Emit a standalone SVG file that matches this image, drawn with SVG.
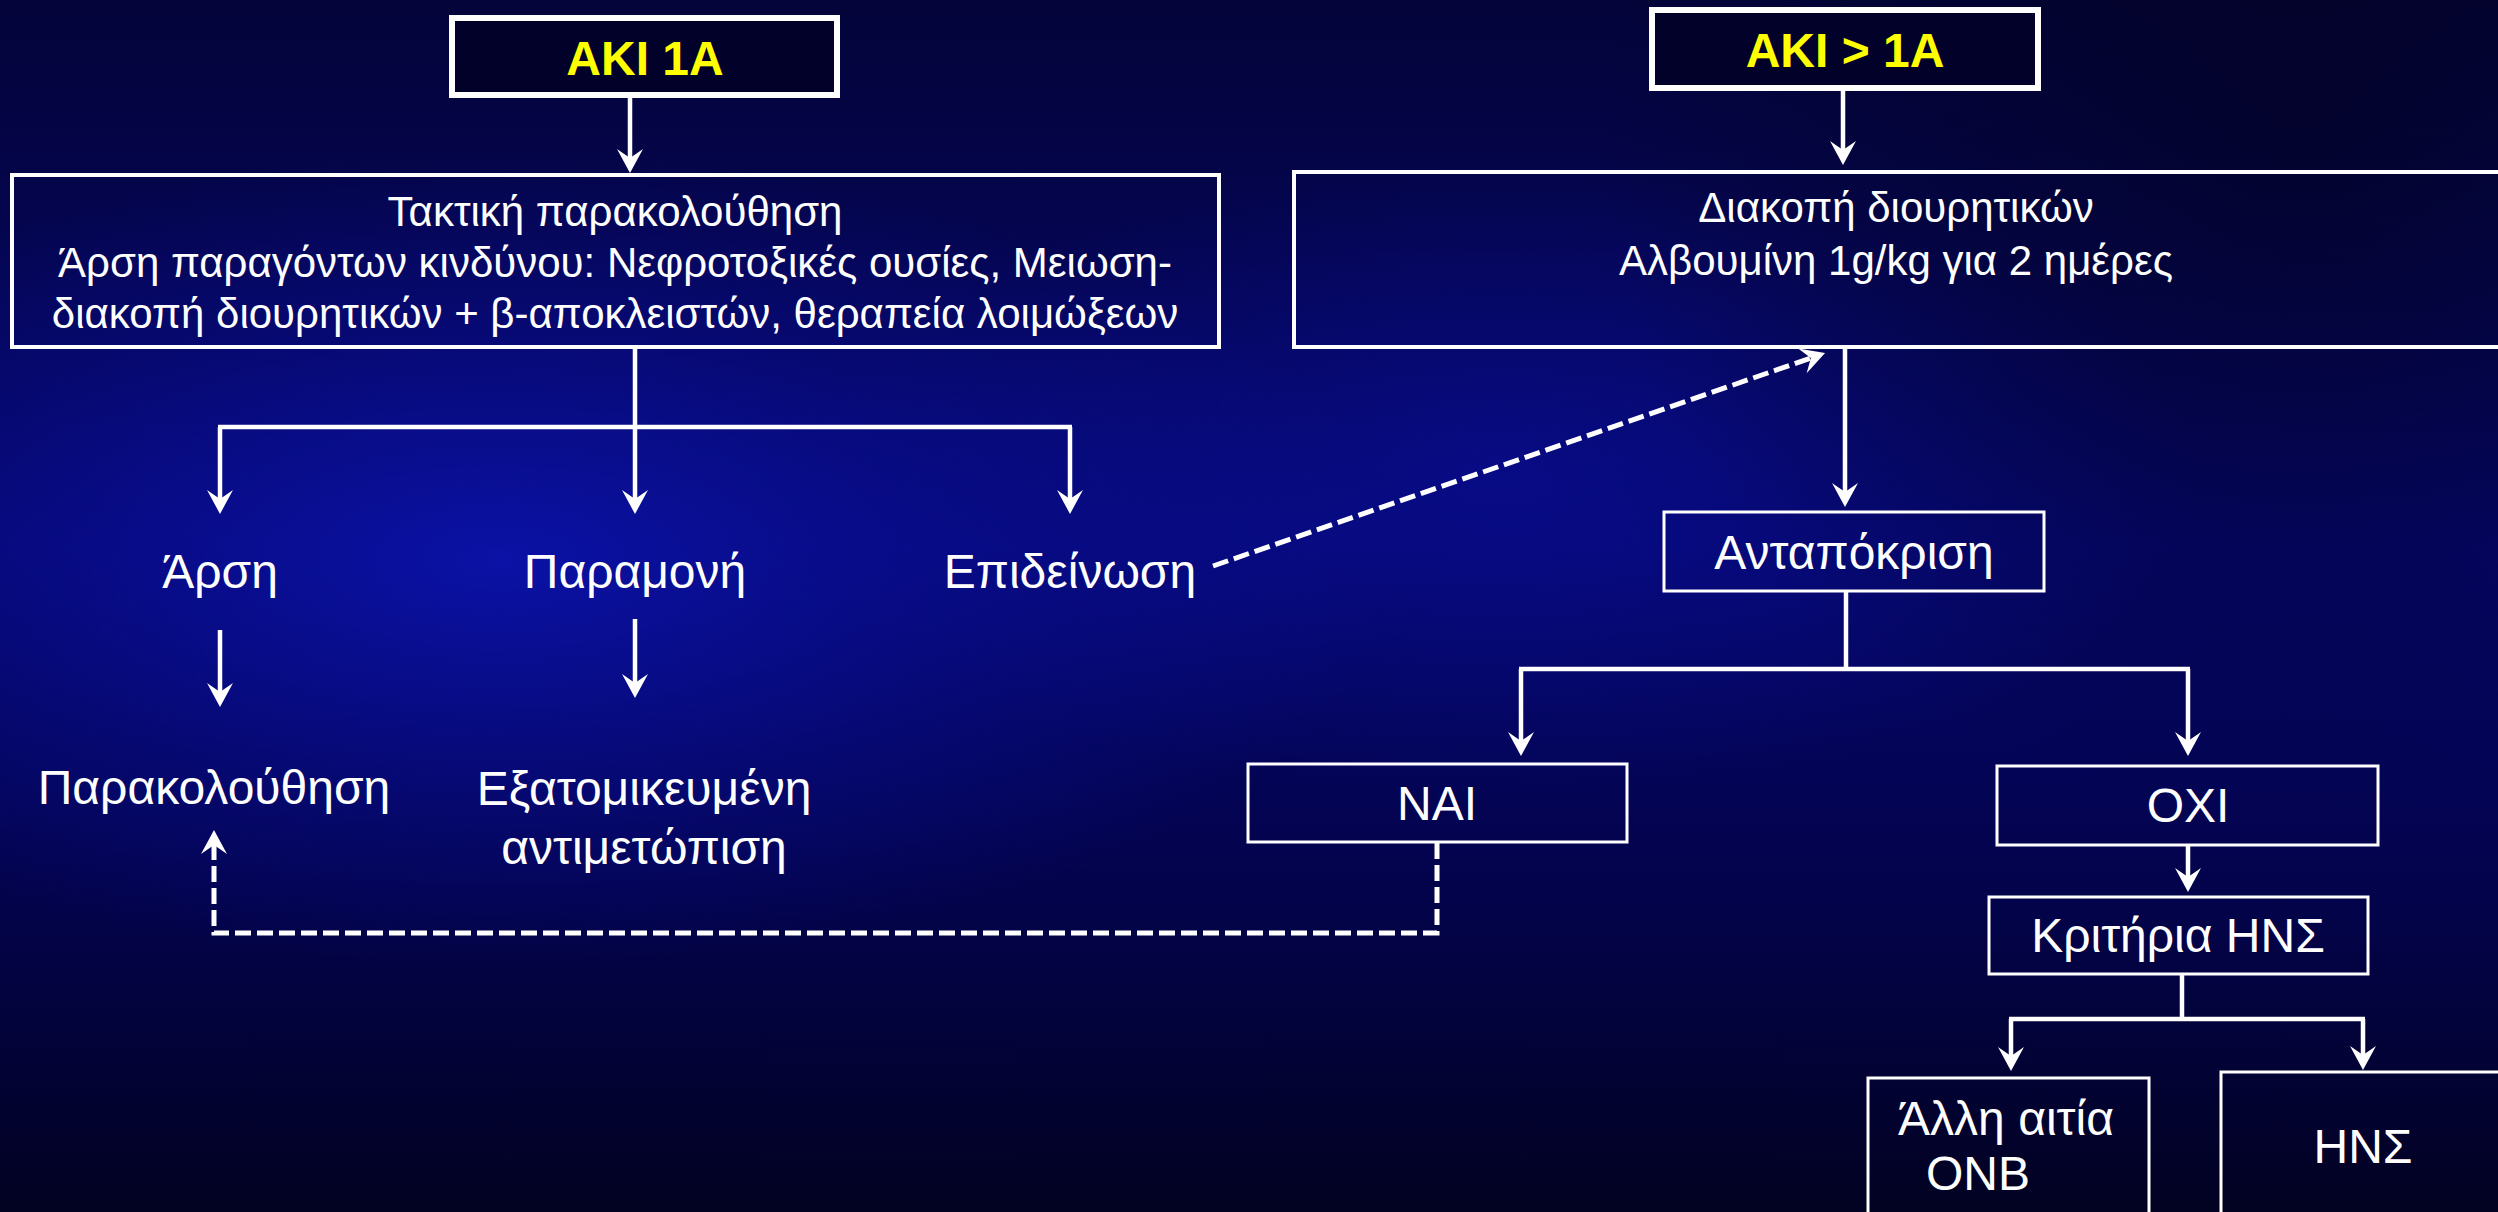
<svg xmlns="http://www.w3.org/2000/svg" width="2498" height="1212" viewBox="0 0 2498 1212">
<defs>
  <linearGradient id="bgv" x1="0" y1="0" x2="0" y2="1">
    <stop offset="0" stop-color="#04043a"/>
    <stop offset="0.45" stop-color="#05066a"/>
    <stop offset="0.75" stop-color="#03034a"/>
    <stop offset="1" stop-color="#020222"/>
  </linearGradient>
  <radialGradient id="glow1" cx="500" cy="560" r="900" gradientUnits="userSpaceOnUse" gradientTransform="translate(500 560) scale(1 0.45) translate(-500 -560)">
    <stop offset="0" stop-color="#0c14b0" stop-opacity="0.85"/>
    <stop offset="0.6" stop-color="#0a10a0" stop-opacity="0.35"/>
    <stop offset="1" stop-color="#0a10a0" stop-opacity="0"/>
  </radialGradient>
  <radialGradient id="glow2" cx="1500" cy="480" r="700" gradientUnits="userSpaceOnUse" gradientTransform="translate(1500 480) scale(1 0.45) translate(-1500 -480)">
    <stop offset="0" stop-color="#0a10a0" stop-opacity="0.55"/>
    <stop offset="1" stop-color="#0a10a0" stop-opacity="0"/>
  </radialGradient>
  <radialGradient id="dark1" cx="2300" cy="120" r="700" gradientUnits="userSpaceOnUse">
    <stop offset="0" stop-color="#02021e" stop-opacity="0.6"/>
    <stop offset="1" stop-color="#02021e" stop-opacity="0"/>
  </radialGradient>
  <marker id="ah" markerUnits="userSpaceOnUse" markerWidth="26" markerHeight="28" refX="14" refY="13" orient="auto" overflow="visible">
    <path d="M24,13 L0,0 L9,13 L0,26 Z" fill="#ffffff"/>
  </marker>
  <style>
    .ln { fill: none; stroke: #ffffff; stroke-width: 4.5; }
    .dash { fill: none; stroke: #ffffff; stroke-width: 5; stroke-dasharray: 16 6; }
    .thick { fill: #01012a; stroke: #ffffff; stroke-width: 6; }
    .big { fill: none; stroke: #ffffff; stroke-width: 4; }
    .small { fill: none; stroke: #ffffff; stroke-width: 3; }
    text { font-family: "Liberation Sans", Arial, sans-serif; fill: #ffffff; text-anchor: middle; }
    .aki { font-weight: bold; font-size: 48px; fill: #ffff00; }
    .t42 { font-size: 42px; }
    .t46 { font-size: 48px; }
  </style>
</defs>
<rect x="0" y="0" width="2498" height="1212" fill="url(#bgv)"/>
<rect x="0" y="0" width="2498" height="1212" fill="url(#glow1)"/>
<rect x="0" y="0" width="2498" height="1212" fill="url(#glow2)"/>
<rect x="0" y="0" width="2498" height="1212" fill="url(#dark1)"/>

<g id="connectors">
  <path class="ln" d="M630,98 L630,163" marker-end="url(#ah)"/>
  <path class="ln" d="M635,347 L635,427"/>
  <path class="ln" d="M218,427 L1072,427"/>
  <path class="ln" d="M220,427 L220,504" marker-end="url(#ah)"/>
  <path class="ln" d="M635,427 L635,504" marker-end="url(#ah)"/>
  <path class="ln" d="M1070,427 L1070,504" marker-end="url(#ah)"/>
  <path class="ln" d="M220,630 L220,697" marker-end="url(#ah)"/>
  <path class="ln" d="M635,619 L635,688" marker-end="url(#ah)"/>
  <path class="dash" d="M1213,566 L1815.6,356.3" marker-end="url(#ah)"/>
  <path class="ln" d="M1843,91 L1843,155" marker-end="url(#ah)"/>
  <path class="ln" d="M1845,347 L1845,497" marker-end="url(#ah)"/>
  <path class="ln" d="M1846,591 L1846,669"/>
  <path class="ln" d="M1519,669 L2190,669"/>
  <path class="ln" d="M1521,669 L1521,746" marker-end="url(#ah)"/>
  <path class="ln" d="M2188,669 L2188,746" marker-end="url(#ah)"/>
  <path class="ln" d="M2188,845 L2188,882" marker-end="url(#ah)"/>
  <path class="ln" d="M2182,974 L2182,1019"/>
  <path class="ln" d="M2009,1019 L2365,1019"/>
  <path class="ln" d="M2011,1019 L2011,1061" marker-end="url(#ah)"/>
  <path class="ln" d="M2363,1019 L2363,1060" marker-end="url(#ah)"/>
  <path class="dash" d="M1437,843 L1437,933 L214,933 L214,840" marker-end="url(#ah)"/>
</g>

<g id="aki1a">
  <rect class="thick" x="452" y="18" width="385" height="77"/>
  <text class="aki" x="645" y="75">AKI 1A</text>
</g>
<g id="monitoring-box">
  <rect class="big" x="12" y="175" width="1207" height="172"/>
  <text class="t42" x="615" y="226">Τακτική παρακολούθηση</text>
  <text class="t42" x="615" y="277">Άρση παραγόντων κινδύνου: Νεφροτοξικές ουσίες, Μειωση-</text>
  <text class="t42" x="615" y="328">διακοπή διουρητικών + β-αποκλειστών, θεραπεία λοιμώξεων</text>
</g>
<g id="arsi"><text class="t46" x="220" y="588">Άρση</text></g>
<g id="paramoni"><text class="t46" x="635" y="588">Παραμονή</text></g>
<g id="epideinosi"><text class="t46" x="1070" y="588">Επιδείνωση</text></g>
<g id="parakolouthisi"><text class="t46" x="214" y="804">Παρακολούθηση</text></g>
<g id="exatomikeumeni">
  <text class="t46" x="644" y="805">Εξατομικευμένη</text>
  <text class="t46" x="644" y="864">αντιμετώπιση</text>
</g>

<g id="aki-gt-1a">
  <rect class="thick" x="1652" y="10" width="386" height="78"/>
  <text class="aki" x="1845" y="67">AKI &gt; 1A</text>
</g>
<g id="diakopi-box">
  <rect class="big" x="1294" y="172" width="1212" height="175"/>
  <text class="t42" x="1896" y="222">Διακοπή διουρητικών</text>
  <text class="t42" x="1896" y="275">Αλβουμίνη 1g/kg για 2 ημέρες</text>
</g>
<g id="antapokrisi">
  <rect class="small" x="1664" y="512" width="380" height="79"/>
  <text class="t46" x="1854" y="569">Ανταπόκριση</text>
</g>
<g id="nai">
  <rect class="small" x="1248" y="764" width="379" height="78"/>
  <text class="t46" x="1437" y="820">NAI</text>
</g>
<g id="oxi">
  <rect class="small" x="1997" y="766" width="381" height="79"/>
  <text class="t46" x="2188" y="822">OXI</text>
</g>
<g id="kritiria">
  <rect class="small" x="1989" y="897" width="379" height="77"/>
  <text class="t46" x="2178" y="952">Κριτήρια ΗΝΣ</text>
</g>
<g id="alli-aitia">
  <rect class="small" x="1868" y="1078" width="281" height="200"/>
  <text class="t46" x="2006" y="1135">Άλλη αιτία</text>
  <text class="t46" x="1978" y="1190">ONB</text>
</g>
<g id="hns">
  <rect class="small" x="2221" y="1072" width="300" height="200"/>
  <text class="t46" x="2363" y="1163">ΗΝΣ</text>
</g>
</svg>
